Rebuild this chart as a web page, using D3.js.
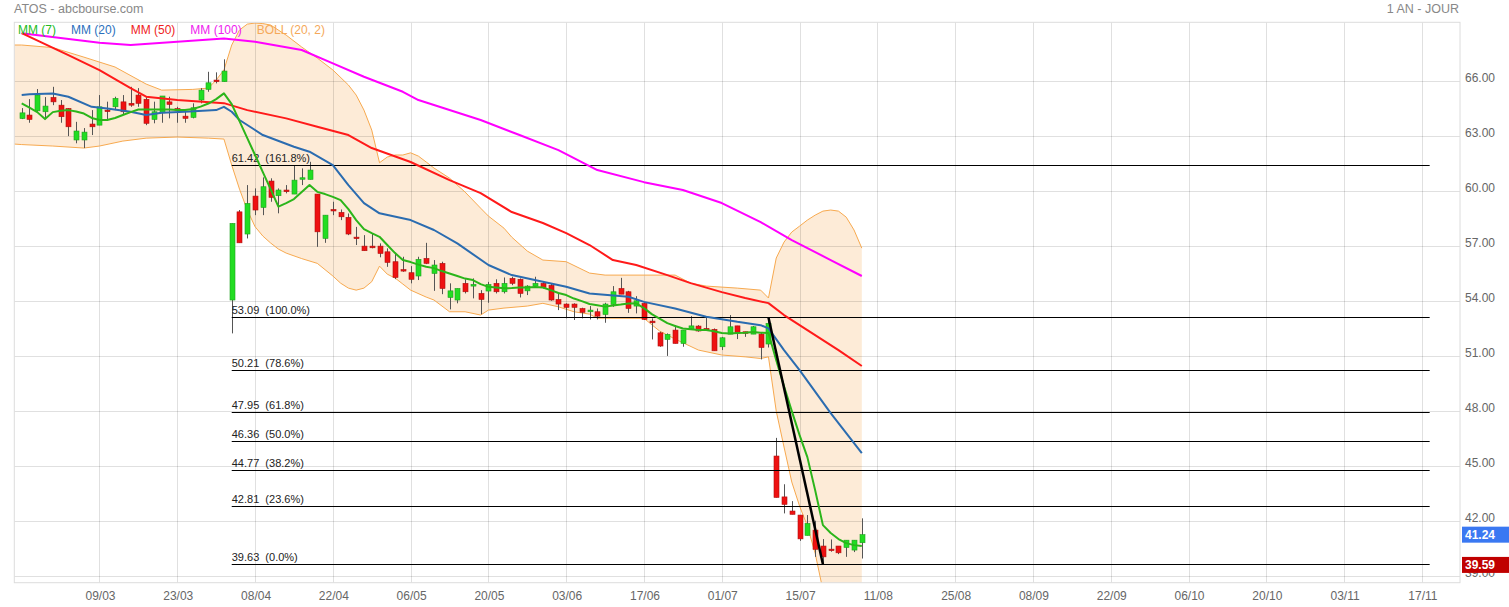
<!DOCTYPE html>
<html><head><meta charset="utf-8">
<script src="https://cdn.jsdelivr.net/npm/d3@7"></script>
<style>body{margin:0;background:#fff}svg{display:block}text{font-family:"Liberation Sans",Arial,sans-serif}</style>
</head><body><svg id="c" width="1509" height="607"></svg>
<script>
// ---------- DATA ----------
const tickIndex = [10,20,30,40,50,60,70,80,90,100,110,120,130,140,150,160,170,180];
const tickLabels = ["09/03","23/03","08/04","22/04","06/05","20/05","03/06","17/06","01/07","15/07","11/08","25/08","08/09","22/09","06/10","20/10","03/11","17/11"];
const priceTicks = [39,42,45,48,51,54,57,60,63,66];

const openP = [63.94,64.13,64.36,64.31,65.09,64.67,64.49,62.77,62.77,63.64,63.58,64.40,64.58,64.85,64.77,65.22,64.99,63.89,64.25,64.85,64.48,64.07,64.00,64.95,65.53,66.04,65.95,
54.04,58.85,57.64,59.71,59.09,60.53,59.73,60.04,59.82,60.64,60.62,59.82,57.40,58.98,58.82,58.55,57.47,56.98,56.98,56.98,56.67,56.13,55.70,55.53,55.35,56.31,55.49,56.04,54.18,54.04,54.95,54.80,54.40,54.53,54.95,54.49,55.22,55.17,54.54,54.80,54.95,54.84,54.07,53.82,53.82,53.58,53.40,53.40,53.25,53.80,54.67,54.49,53.71,53.86,52.89,52.25,51.89,52.40,51.67,52.47,52.62,52.49,52.44,51.49,52.18,52.63,52.31,52.18,52.18,51.64,
45.53,43.30,42.53,42.31,41.20,41.49,40.62,40.45,40.62,40.54,40.40,40.80];
const highP = [64.51,65.00,65.55,65.11,65.67,64.95,64.51,63.76,63.42,64.40,65.22,64.86,65.13,65.22,65.67,65.60,65.17,64.86,65.17,65.13,64.58,64.31,64.77,65.60,66.49,66.46,67.17,
58.22,58.95,60.31,60.13,60.73,60.68,60.13,60.31,61.40,61.22,61.58,59.82,58.67,59.40,58.98,58.76,58.03,57.58,57.67,57.13,56.86,56.62,56.40,55.89,56.40,57.16,56.22,56.13,54.95,54.67,55.17,55.22,54.58,55.03,55.17,55.27,55.31,55.22,54.85,55.31,55.03,54.95,54.40,53.86,53.86,53.62,53.71,53.58,53.89,54.80,55.25,54.54,54.25,53.93,53.04,52.31,52.22,52.67,52.40,53.16,52.67,53.09,52.49,52.03,53.22,52.63,52.31,52.62,52.25,53.09,
46.52,43.99,43.07,42.31,42.31,42.00,41.00,40.98,40.62,40.94,40.94,42.13];
const lowP = [63.91,63.71,64.31,63.91,64.67,63.71,62.98,62.59,62.33,63.04,63.58,63.86,64.40,64.13,64.58,64.58,63.58,63.68,63.71,63.95,63.71,63.71,63.95,64.77,65.40,65.86,65.95,
52.22,57.16,57.40,58.67,58.67,59.40,58.77,59.86,59.82,60.31,60.62,56.94,57.16,58.67,58.40,57.58,57.04,56.73,56.86,56.37,55.85,55.18,55.58,54.95,55.13,56.00,54.54,54.36,53.53,53.86,54.40,54.13,53.27,53.89,54.40,54.40,54.85,54.18,54.31,54.76,54.67,54.00,53.49,53.04,52.95,53.04,52.98,52.98,52.80,53.67,54.36,53.34,53.31,52.95,51.89,51.49,50.99,51.67,51.49,52.44,52.31,52.40,51.27,51.31,52.18,51.91,52.03,52.18,50.80,51.45,
43.27,42.40,42.35,40.90,41.20,40.03,39.63,40.31,40.18,40.03,40.29,39.94];
const closeP = [64.25,63.89,65.22,64.62,64.85,64.04,63.49,63.26,63.20,63.49,64.58,64.36,65.04,64.31,64.67,64.77,63.68,64.31,65.17,64.71,64.40,63.95,64.53,65.49,65.89,65.95,66.53,
58.22,57.16,59.31,58.95,60.22,59.64,60.04,59.95,60.58,60.71,61.13,57.76,58.67,58.91,58.58,57.64,57.43,56.73,56.89,56.58,56.09,55.27,55.67,55.17,56.26,56.04,55.95,54.67,54.54,54.67,54.49,54.89,54.07,54.89,54.49,54.95,54.95,54.40,54.80,54.95,54.73,54.04,53.82,53.64,53.64,53.37,53.49,53.16,53.82,54.49,54.36,53.58,54.00,52.98,52.80,51.53,52.17,51.67,52.40,52.63,52.35,52.40,51.27,51.98,52.58,52.27,52.22,52.58,51.45,52.77,
43.27,42.89,42.35,41.01,41.85,40.44,40.03,40.42,40.25,40.94,40.94,41.24];

// moving averages
const mm7 = [64.77,64.54,64.29,63.91,64.29,64.37,64.40,64.32,64.21,63.97,63.86,63.86,63.97,64.13,64.29,64.43,64.44,64.44,64.44,64.43,64.40,64.40,64.46,64.59,64.76,65.00,65.31,
64.73,63.80,62.87,61.95,61.02,60.09,59.13,59.33,59.55,59.93,60.31,59.94,59.82,59.67,59.49,59.00,58.40,57.91,57.69,57.49,57.04,56.60,56.22,56.11,55.97,55.86,55.78,55.62,55.49,55.35,55.21,55.13,54.91,54.76,54.72,54.68,54.69,54.72,54.73,54.75,54.72,54.58,54.42,54.31,54.12,53.98,53.82,53.76,53.68,53.74,53.79,53.85,53.86,53.60,53.27,53.03,52.78,52.62,52.49,52.45,52.40,52.40,52.34,52.24,52.22,52.24,52.26,52.29,52.26,52.24,
50.76,49.34,47.98,46.67,45.47,43.67,41.76,41.33,41.00,40.78,40.67,40.62];
const mm20Idx = [0,1,4,6,9,11,14,16,18,21,25,26,27,28,31,35,37,40,42,44,46,50,53,56,60,63,67,70,73,78,80,84,88,92,95,96,98,100,104,108];
const mm20Val = [65.22,65.26,65.31,65.13,64.58,64.49,64.31,64.13,64.25,64.31,64.40,64.58,64.31,63.86,63.04,62.40,62.13,61.40,60.31,59.33,58.77,58.40,57.86,57.13,55.95,55.40,55.04,54.76,54.40,54.22,53.94,53.58,53.13,52.85,52.67,52.49,51.31,50.22,47.87,45.69];
const mm50Idx = [0,6,10,14,16,20,26,29,34,38,42,45,50,55,59,63,67,70,73,76,79,83,86,90,93,96,98,101,105,108];
const mm50Val = [68.60,67.40,66.58,65.60,65.13,64.95,64.78,64.40,63.95,63.49,63.04,62.33,61.57,60.58,59.87,58.84,58.24,57.69,57.04,56.22,55.95,55.40,54.96,54.47,54.15,53.87,53.22,52.40,51.31,50.44];
const mm100Idx = [0,10,14,20,26,30,36,40,44,49,51,59,64,69,74,80,85,90,95,99,104,108];
const mm100Val = [68.59,68.07,67.95,68.13,68.31,68.13,67.68,66.95,66.22,65.40,64.95,63.86,63.04,62.22,61.13,60.47,60.04,59.33,58.29,57.31,56.22,55.35];

// Bollinger (20, 2)
const bollUpIdx = [-1,0,4,8,12,16,18,22,24,25,26,27,28,29,30,31,32,34,36,38,40,42,43,44,45,46,47,48,49,50,51,52,53,55,57,59,60,62,63,65,67,70,73,75,80,84,86,88,92,95,96,97,98,99,100,101,102,103,104,105,106,107,108];
const bollUpVal = [67.95,67.95,67.81,67.29,66.75,65.82,65.49,65.53,65.60,66.04,66.59,67.95,68.77,69.09,69.15,69.12,69.04,68.49,67.84,67.24,66.59,65.77,65.22,64.40,63.31,61.53,61.84,61.95,61.95,62.07,61.89,61.57,61.24,60.69,59.93,59.05,58.62,57.96,57.47,56.71,56.22,56.13,55.51,55.40,55.40,55.40,54.96,54.80,54.69,54.58,54.15,56.33,57.20,57.75,58.07,58.40,58.67,58.89,58.95,58.89,58.56,57.86,56.87];
const bollLowIdx = [-1,0,4,8,10,13,16,20,24,26,27,28,29,30,31,32,33,34,36,38,40,41,42,43,44,45,46,47,48,49,50,52,53,55,57,59,60,62,65,67,69,71,73,74,80,82,84,87,90,93,95,96,97,98,99,100,101,102,103,104,105,106,107,108];
const bollLowVal = [62.55,62.52,62.44,62.33,62.44,62.71,62.87,62.93,62.87,62.82,61.40,60.09,58.95,58.04,57.53,57.15,56.82,56.60,56.30,56.04,55.35,54.96,54.69,54.58,54.69,55.04,55.89,55.45,55.24,54.91,54.58,54.20,54.04,53.40,53.40,53.22,53.49,53.60,53.71,53.86,53.67,53.40,53.27,53.05,53.04,52.35,51.91,51.31,51.04,50.94,50.85,50.94,47.98,46.02,44.11,42.80,41.71,40.23,38.22,37.00,36.30,35.80,35.50,35.30];

// Fibonacci retracement
const fibPrices = [61.42,53.09,50.21,47.95,46.36,44.77,42.81,39.63];
const fibPcts = ["161.8%","100.0%","78.6%","61.8%","50.0%","38.2%","23.6%","0.0%"];
const fibFromIdx = 27, fibToIdx = 181;
const trendIdx = [96,103];
const trendVal = [53.09,39.63];

const legendNames = ["MM (7)","MM (20)","MM (50)","MM (100)","BOLL (20, 2)"];
const lastPrice = 41.24, lowMark = 39.59;

// ---------- DRAW ----------
const svg = d3.select("#c");
const P = {l:14.3, r:1460, t:22.3, b:582.7};
const x = d3.scaleLinear().domain([-0.95,184.9]).range([P.l,P.r]);
const y = d3.scaleLinear().domain([38.62,69.19]).range([P.b,P.t]);

svg.append("defs").append("clipPath").attr("id","clip")
  .append("rect").attr("x",P.l).attr("y",P.t).attr("width",P.r-P.l).attr("height",P.b-P.t);
const g = svg.append("g").attr("clip-path","url(#clip)");

const zip = (a,b)=>a.map((v,i)=>[v,b[i]]);
const up = zip(bollUpIdx,bollUpVal), lo = zip(bollLowIdx,bollLowVal);
const line = d3.line().x(d=>x(d[0])).y(d=>y(d[1]));

// band fill
g.append("path").attr("d", line(up.concat(lo.slice().reverse())) + "Z")
  .attr("fill","#fdebd7").attr("stroke","none");

// grid
g.selectAll(".hg").data(priceTicks).join("line")
  .attr("x1",P.l).attr("x2",P.r).attr("y1",d=>Math.round(y(d))+0.5).attr("y2",d=>Math.round(y(d))+0.5)
  .attr("stroke","rgba(0,0,0,0.12)");
g.selectAll(".vg").data(tickIndex).join("line")
  .attr("y1",P.t).attr("y2",P.b).attr("x1",d=>Math.round(x(d))+0.5).attr("x2",d=>Math.round(x(d))+0.5)
  .attr("stroke","rgba(0,0,0,0.12)");

// band strokes
[up,lo].forEach(s=>g.append("path").attr("d",line(s)).attr("fill","none").attr("stroke","#f7a94f").attr("stroke-width",1));

// candles
const idx = d3.range(openP.length);
const cg = g.append("g");
cg.selectAll(".w").data(idx).join("line")
  .attr("x1",i=>Math.round(x(i))+0.5).attr("x2",i=>Math.round(x(i))+0.5)
  .attr("y1",i=>y(highP[i])).attr("y2",i=>y(lowP[i]))
  .attr("stroke","#555").attr("stroke-width",1);
cg.selectAll(".b").data(idx).join("rect")
  .attr("x",i=>Math.round(x(i))-2).attr("width",5)
  .attr("y",i=>y(Math.max(openP[i],closeP[i])))
  .attr("height",i=>Math.max(1.5, Math.abs(y(openP[i])-y(closeP[i]))))
  .attr("fill",i=>closeP[i]>=openP[i]?"#22dd22":"#ee1111")
  .attr("stroke",i=>closeP[i]>=openP[i]?"#1fa01f":"#b01010").attr("stroke-width",0.6);

// fib lines
fibPrices.forEach((p,k)=>{
  g.append("line").attr("x1",x(fibFromIdx)).attr("x2",x(fibToIdx))
    .attr("y1",Math.round(y(p))+0.5).attr("y2",Math.round(y(p))+0.5).attr("stroke","#000").attr("stroke-width",1);
  g.append("text").attr("x",x(fibFromIdx)).attr("y",y(p)-3).attr("font-size",11).attr("fill","#222")
    .attr("xml:space","preserve").text(p.toFixed(2)+"  ("+fibPcts[k]+")");
});

// moving averages
const lineSets = [
  [zip(mm100Idx,mm100Val),"#ff00ff"],
  [zip(mm50Idx,mm50Val),"#ff1a1a"],
  [zip(mm20Idx,mm20Val),"#2b6cb0"],
  [mm7.map((v,i)=>[i,v]),"#2bb51a"]
];
lineSets.forEach(([d,c])=>g.append("path").attr("d",line(d)).attr("fill","none")
  .attr("stroke",c).attr("stroke-width",2).attr("stroke-linejoin","round"));

// trend line
g.append("path").attr("d",line(zip(trendIdx,trendVal))).attr("stroke","#000").attr("stroke-width",2.5).attr("fill","none");

// frame
svg.append("rect").attr("x",P.l).attr("y",P.t).attr("width",P.r-P.l).attr("height",P.b-P.t)
  .attr("fill","none").attr("stroke","#dcdcdc");

// titles
svg.append("text").attr("x",14).attr("y",13).attr("font-size",12.5).attr("fill","#888").text("ATOS - abcbourse.com");
svg.append("text").attr("x",1459).attr("y",13).attr("font-size",12.5).attr("fill","#888").attr("text-anchor","end").text("1 AN - JOUR");

// legend
const legColors = ["#22bb22","#2a6fbd","#ee2222","#ee22ee","#f5a95a"];
let lx = 18;
legendNames.forEach((n,k)=>{
  const t = svg.append("text").attr("x",lx).attr("y",34).attr("font-size",12).attr("fill",legColors[k]).text(n);
  lx += t.node().getComputedTextLength() + 15;
});

// y axis labels
svg.selectAll(".yl").data(priceTicks).join("text")
  .attr("x",1465).attr("y",d=>y(d)+1).attr("font-size",12).attr("fill","#666").text(d=>d.toFixed(2));
// x axis labels
svg.selectAll(".xl").data(tickIndex).join("text")
  .attr("x",d=>x(d)+1).attr("y",600).attr("font-size",12).attr("fill","#666").attr("text-anchor","middle")
  .text((d,i)=>tickLabels[i]);

// price boxes
[[lastPrice,"#3a78f2"],[lowMark,"#c00000"]].forEach(([p,c])=>{
  svg.append("rect").attr("x",1462).attr("y",y(p)-8).attr("width",47).attr("height",16).attr("fill",c);
  svg.append("text").attr("x",1465).attr("y",y(p)+4.5).attr("font-size",12).attr("font-weight","bold")
    .attr("fill","#fff").text(p.toFixed(2));
});
</script></body></html>
